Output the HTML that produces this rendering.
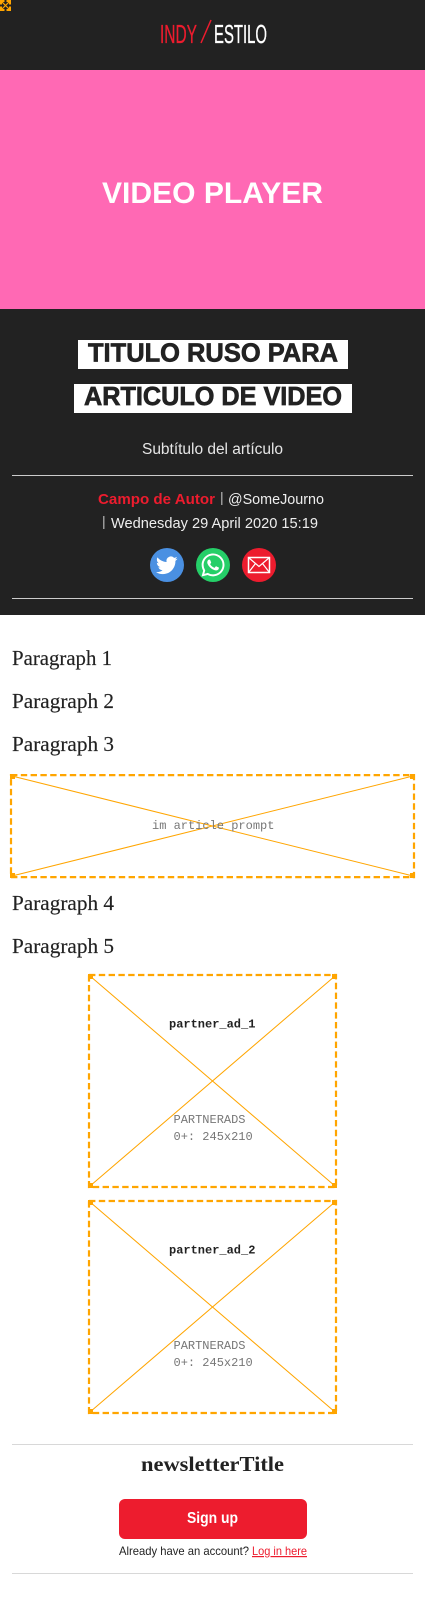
<!DOCTYPE html>
<html lang="en">
<head>
<meta charset="utf-8">
<title>Indy Estilo article</title>
<style>
html,body{margin:0;padding:0;background:#fff}
#page{position:relative;width:425px;height:1614px;overflow:hidden;background:#fff}
.band{position:absolute;left:0;width:425px}
svg{position:absolute;left:0;top:0}
text{font-family:"Liberation Sans",sans-serif}
.mono{font-family:"Liberation Mono",monospace;font-size:12px}
.serif{font-family:"Liberation Serif",serif}
.dash{fill:none;stroke:#ffa500;stroke-width:2.2;stroke-dasharray:6.4 3.4}
.cnr{fill:#ffa500}
</style>
</head>
<body>
<div id="page">
  <div class="band" style="top:0;height:70px;background:#222"></div>
  <div class="band" style="top:70px;height:239px;background:#ff69b4"></div>
  <div class="band" style="top:309px;height:306px;background:#222"></div>

  <svg width="425" height="1614" viewBox="0 0 425 1614">
    <g>
      <path fill="#ffa500" d="M0 0h4.5v2H2v2.5H0zM6.5 0H11v4.500H9V2H6.500zM0 6.500h2V9h2.500v2H0zM9 6.500h2V11H6.500V9H9z"/>
      <path d="M1 1L10 10M10 1L1 10" stroke="#ffa500" stroke-width="1.2"/>
    </g>

    <text x="160" y="43" font-size="26" fill="#ed1c2e" stroke="#ed1c2e" stroke-width=".3" textLength="37" lengthAdjust="spacingAndGlyphs">INDY</text>
    <line x1="201" y1="43" x2="211" y2="20" stroke="#ed1c2e" stroke-width="1.5"/>
    <text x="214" y="43" font-size="26" fill="#fff" stroke="#fff" stroke-width=".3" textLength="53" lengthAdjust="spacingAndGlyphs">ESTILO</text>

    <text x="102" y="203" font-size="30" font-weight="700" fill="#fff" textLength="221" lengthAdjust="spacingAndGlyphs">VIDEO PLAYER</text>

    <rect x="78" y="340" width="270" height="29" fill="#fff"/>
    <text x="88" y="361.500" font-size="26" font-weight="700" fill="#222" stroke="#222" stroke-width=".7" textLength="250" lengthAdjust="spacingAndGlyphs">TITULO RUSO PARA</text>
    <rect x="74" y="384" width="278" height="29" fill="#fff"/>
    <text x="84" y="405" font-size="26" font-weight="700" fill="#222" stroke="#222" stroke-width=".7" textLength="258" lengthAdjust="spacingAndGlyphs">ARTICULO DE VIDEO</text>

    <text x="142" y="454" font-size="15.500" fill="#e6e6e6" textLength="141" lengthAdjust="spacing">Subtítulo del artículo</text>
    <rect x="12" y="475" width="401" height="1" fill="#ccc"/>

    <text x="98" y="504" font-size="15" font-weight="700" fill="#ed1c2e" textLength="117" lengthAdjust="spacingAndGlyphs">Campo de Autor</text>
    <rect x="221" y="492" width="1.500" height="13" fill="#999"/>
    <text x="228" y="504" font-size="15" fill="#eee" textLength="96" lengthAdjust="spacingAndGlyphs">@SomeJourno</text>
    <rect x="103" y="516" width="1.500" height="13" fill="#999"/>
    <text x="111" y="528" font-size="15" fill="#eee" textLength="207" lengthAdjust="spacingAndGlyphs">Wednesday 29 April 2020 15:19</text>

    <g>
      <circle cx="167" cy="565" r="17" fill="#4a90e2"/>
      <path transform="translate(156 554.500) scale(.9)" fill="#fff" d="M23.953 4.57a10 10 0 01-2.825.775 4.958 4.958 0 002.163-2.723c-.951.555-2.005.959-3.127 1.184a4.92 4.92 0 00-8.384 4.482C7.69 8.095 4.067 6.13 1.64 3.162a4.822 4.822 0 00-.666 2.475c0 1.71.87 3.213 2.188 4.096a4.904 4.904 0 01-2.228-.616v.06a4.923 4.923 0 003.946 4.827 4.996 4.996 0 01-2.212.085 4.936 4.936 0 004.604 3.417 9.867 9.867 0 01-6.102 2.105c-.39 0-.779-.023-1.17-.067a13.995 13.995 0 007.557 2.209c9.053 0 13.998-7.496 13.998-13.985 0-.21 0-.42-.015-.63A9.935 9.935 0 0024 4.59z"/>
    </g>
    <g>
      <circle cx="213" cy="565" r="17" fill="#25cf68"/>
      <path transform="translate(201.500 553.500) scale(.96)" fill="#fff" d="M17.472 14.382c-.297-.149-1.758-.867-2.03-.967-.273-.099-.471-.148-.67.15-.197.297-.767.966-.94 1.164-.173.199-.347.223-.644.075-.297-.15-1.255-.463-2.39-1.475-.883-.788-1.48-1.761-1.653-2.059-.173-.297-.018-.458.13-.606.134-.133.298-.347.446-.52.149-.174.198-.298.298-.497.099-.198.05-.371-.025-.52-.075-.149-.669-1.612-.916-2.207-.242-.579-.487-.5-.669-.51-.173-.008-.371-.01-.57-.01-.198 0-.52.074-.792.372-.272.297-1.04 1.016-1.04 2.479 0 1.462 1.065 2.875 1.213 3.074.149.198 2.096 3.2 5.077 4.487.709.306 1.262.489 1.694.625.712.227 1.36.195 1.871.118.571-.085 1.758-.719 2.006-1.413.248-.694.248-1.289.173-1.413-.074-.124-.272-.198-.57-.347m-5.421 7.403h-.004a9.87 9.87 0 01-5.031-1.378l-.361-.214-3.741.982.998-3.648-.235-.374a9.86 9.86 0 01-1.51-5.26c.001-5.45 4.436-9.884 9.888-9.884 2.64 0 5.122 1.03 6.988 2.898a9.825 9.825 0 012.893 6.994c-.003 5.45-4.437 9.884-9.885 9.884m8.413-18.297A11.815 11.815 0 0012.05 0C5.495 0 .16 5.335.157 11.892c0 2.096.547 4.142 1.588 5.945L.057 24l6.305-1.654a11.882 11.882 0 005.683 1.448h.005c6.554 0 11.89-5.335 11.893-11.893a11.821 11.821 0 00-3.48-8.413z"/>
    </g>
    <g>
      <circle cx="259" cy="565" r="17" fill="#ed1c2e"/>
      <rect x="248.500" y="557.500" width="21" height="15" fill="none" stroke="#fff" stroke-width="1.500"/>
      <path d="M248.500 557.500L259 566.500L269.500 557.500M248.500 572.500L255.500 563.500M269.500 572.500L262.500 563.500" fill="none" stroke="#fff" stroke-width="1.200"/>
    </g>
    <rect x="12" y="598" width="401" height="1" fill="#ccc"/>

    <g font-size="21" fill="#222" stroke="#222" stroke-width=".15">
      <text class="serif" x="12" y="665" textLength="100" lengthAdjust="spacingAndGlyphs">Paragraph 1</text>
      <text class="serif" x="12" y="708" textLength="102" lengthAdjust="spacingAndGlyphs">Paragraph 2</text>
      <text class="serif" x="12" y="751" textLength="102" lengthAdjust="spacingAndGlyphs">Paragraph 3</text>
      <text class="serif" x="12" y="910" textLength="102" lengthAdjust="spacingAndGlyphs">Paragraph 4</text>
      <text class="serif" x="12" y="953" textLength="102" lengthAdjust="spacingAndGlyphs">Paragraph 5</text>
    </g>

    <g>
      <rect class="dash" x="11" y="775.100" width="403" height="102"/>
      <path class="cnr" d="M10 774h5v5h-5zM410 774h5v5h-5zM10 873h5v5h-5zM410 873h5v5h-5z"/>
    </g>
    <path d="M12 776L413 876M413 776L12 876" stroke="#ffa500" stroke-width="1" fill="none"/>
    <text class="mono" x="152" y="829" fill="#777">im article prompt</text>

    <g>
      <rect class="dash" x="89" y="975" width="247" height="212"/>
      <path class="cnr" d="M88 974h5v5h-5zM332 974h5v5h-5zM88 1183h5v5h-5zM332 1183h5v5h-5z"/>
    </g>
    <path d="M90 976L335 1186M335 976L90 1186" stroke="#ffa500" stroke-width="1" fill="none"/>
    <text class="mono" x="169" y="1027.500" font-weight="700" fill="#222">partner_ad_1</text>
    <text class="mono" x="173.500" y="1123" fill="#777">PARTNERADS</text>
    <text class="mono" x="173.500" y="1140" fill="#777">0+: 245x210</text>

    <g>
      <rect class="dash" x="89" y="1201" width="247" height="212"/>
      <path class="cnr" d="M88 1200h5v5h-5zM332 1200h5v5h-5zM88 1409h5v5h-5zM332 1409h5v5h-5z"/>
    </g>
    <path d="M90 1202L335 1412M335 1202L90 1412" stroke="#ffa500" stroke-width="1" fill="none"/>
    <text class="mono" x="169" y="1253.500" font-weight="700" fill="#222">partner_ad_2</text>
    <text class="mono" x="173.500" y="1349" fill="#777">PARTNERADS</text>
    <text class="mono" x="173.500" y="1366" fill="#777">0+: 245x210</text>

    <rect x="12" y="1444" width="401" height="1" fill="#d8d8d8"/>
    <text class="serif" x="141" y="1471" font-size="21" font-weight="700" fill="#222" textLength="143" lengthAdjust="spacingAndGlyphs">newsletterTitle</text>
    <g>
      <rect x="119" y="1499" width="188" height="40" rx="6" fill="#ed1c2e"/>
      <text x="187" y="1523" font-size="16" font-weight="700" fill="#fff" textLength="51" lengthAdjust="spacingAndGlyphs">Sign up</text>
    </g>
    <text x="119" y="1555" font-size="12" fill="#222" textLength="130" lengthAdjust="spacingAndGlyphs">Already have an account?</text>
    <text x="252" y="1555" font-size="12" fill="#ed1c2e" text-decoration="underline" textLength="55" lengthAdjust="spacingAndGlyphs">Log in here</text>
    <rect x="12" y="1573" width="401" height="1" fill="#d8d8d8"/>
  </svg>
</div>
</body>
</html>
